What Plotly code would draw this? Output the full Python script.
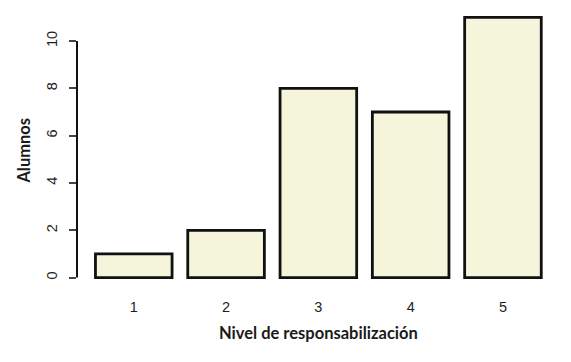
import plotly.graph_objects as go

categories = ["1", "2", "3", "4", "5"]
positions = [1, 2, 3, 4, 5]
alumnos = [1, 2, 8, 7, 11]
y_ticks = [0, 2, 4, 6, 8, 10]
x_title = "Nivel de responsabilización"
y_title = "Alumnos"

TICK_FONT = dict(family="Arial, Liberation Sans, sans-serif", size=14.5, color="#1e1e1e")
TITLE_FONT = dict(family="Lato, sans-serif", size=16.5, color="#1a1a1a")

fig = go.Figure()
fig.add_trace(go.Bar(
    x=positions, y=alumnos, width=0.83,
    marker=dict(color="#F5F5DC", line=dict(color="#111111", width=2.8)),
    hoverinfo="skip",
))

fig.add_shape(type="line", xref="paper", yref="y", x0=0, x1=0, y0=0, y1=10,
              line=dict(color="#111111", width=2))

fig.add_annotation(text="<b>" + x_title + "</b>", xref="paper", yref="paper",
                   x=0.5, y=-0.160, xanchor="center", yanchor="middle",
                   showarrow=False, font=TITLE_FONT)
fig.add_annotation(text="<b>" + y_title + "</b>", xref="paper", yref="paper",
                   x=-0.1097, y=0.489, xanchor="center", yanchor="middle",
                   textangle=-90, showarrow=False, font=TITLE_FONT)

fig.update_layout(
    width=571, height=362,
    margin=dict(l=77, r=11, t=7, b=74, autoexpand=False),
    paper_bgcolor="white", plot_bgcolor="white",
    showlegend=False,
    font=TICK_FONT,
    xaxis=dict(
        range=[0.385, 5.618], tickmode="array", tickvals=positions, ticktext=categories,
        showline=False, showgrid=False, zeroline=False, ticks="",
        ticklabelstandoff=8, tickfont=TICK_FONT, automargin=False,
        fixedrange=True,
    ),
    yaxis=dict(
        range=[-0.44, 11.44], tickmode="array", tickvals=y_ticks,
        ticktext=[str(v) for v in y_ticks],
        showline=False, showgrid=False, zeroline=False,
        ticks="outside", ticklen=7, tickwidth=1.5, tickcolor="#444444",
        tickangle=-90, ticklabelstandoff=6, automargin=False,
        tickfont=TICK_FONT,
        fixedrange=True,
    ),
)

fig.write_html("out.html", config={"displayModeBar": False},
               post_script="document.body.style.margin='0';document.body.style.overflow='hidden';")
